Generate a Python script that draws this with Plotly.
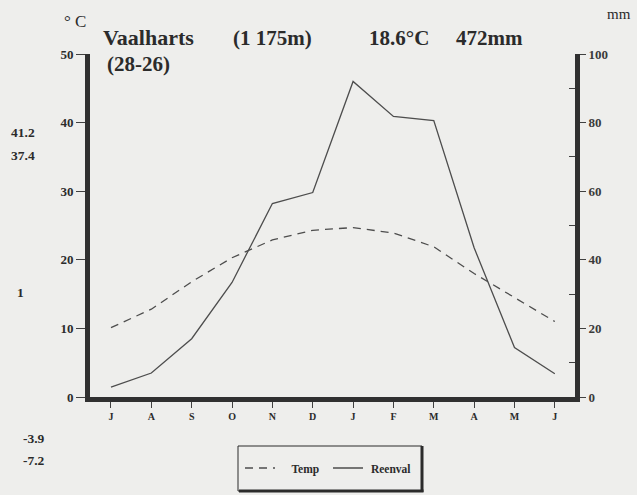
import plotly.graph_objects as go

months = ["J", "A", "S", "O", "N", "D", "J", "F", "M", "A", "M", "J"]
temp = [10.1, 12.8, 16.8, 20.3, 22.9, 24.3, 24.7, 23.9, 21.9, 18.0, 14.5, 11.0]
rain = [2.9, 7.0, 17.0, 33.4, 56.4, 59.6, 92.0, 81.8, 80.6, 43.5, 14.4, 6.8]
side_labels = ["41.2", "37.4", "1", "-3.9", "-7.2"]

SERIF = "Liberation Serif"
INK = "#2b2b2b"
LINE = "#4d4d4d"
BG = "#eeeeec"
NB = "\u00a0"

x = list(range(len(months)))

fig = go.Figure()
fig.add_trace(go.Scatter(
    x=x, y=temp, name=NB * 4 + "Temp", mode="lines",
    line=dict(color=LINE, width=1.3, dash="8px,6px"),
    yaxis="y",
))
fig.add_trace(go.Scatter(
    x=x, y=rain, name=NB + "Reenval", mode="lines",
    line=dict(color=LINE, width=1.3),
    yaxis="y2",
))

W, H = 637, 495
ml, mr, mt, mb = 90, 62, 54, 98
pw, ph = W - ml - mr, H - mt - mb


def px(xp):
    return (xp - ml) / pw


def py(yp):
    return (H - mb - yp) / ph


annotations = []


def ann(text, xp, yp, size, bold=True, anchor="left", color=INK):
    annotations.append(dict(
        text=text, x=px(xp), y=py(yp), xref="paper", yref="paper",
        xanchor=anchor, yanchor="middle", showarrow=False,
        font=dict(family=SERIF, size=size, color=color,
                  weight="bold" if bold else "normal"),
    ))


ann("Vaalharts", 101, 38, 22)
ann("(1 175m)", 231, 38, 21)
ann("18.6°C", 367, 38, 21)
ann("472mm", 454, 38, 21)
ann("(28-26)", 105, 64, 21)
ann("° C", 62, 22, 17, bold=False)
ann("mm", 605, 14, 15, bold=False)

side_pos = [(9, 132), (9, 155), (15, 292), (21, 438), (21, 460)]
for lab, (sx, sy) in zip(side_labels, side_pos):
    ann(lab, sx, sy, 13.5)

shapes = [
    dict(type="rect", xref="paper", yref="paper",
         x0=px(238), x1=px(422), y0=py(491), y1=py(446),
         line=dict(color=INK, width=1), fillcolor="rgba(0,0,0,0)"),
    dict(type="line", xref="paper", yref="paper",
         x0=px(422), x1=px(422), y0=py(492), y1=py(446),
         line=dict(color=INK, width=3)),
    dict(type="line", xref="paper", yref="paper",
         x0=px(239), x1=px(423.5), y0=py(491), y1=py(491),
         line=dict(color=INK, width=3)),
]

axis_common = dict(
    showline=True, linewidth=5, linecolor="#303030",
    showgrid=False, zeroline=False,
    ticks="outside", tickcolor="#404040", tickwidth=1,
)

fig.update_layout(
    width=W, height=H,
    margin=dict(l=ml, r=mr, t=mt, b=mb, pad=0),
    paper_bgcolor=BG, plot_bgcolor=BG,
    font=dict(family=SERIF, color=INK),
    showlegend=True,
    legend=dict(
        orientation="h", x=px(240), y=py(468),
        xanchor="left", yanchor="middle",
        bgcolor="rgba(0,0,0,0)", borderwidth=0,
        font=dict(family=SERIF, size=11.5, color=INK, weight="bold"),
        itemwidth=30, entrywidth=43,
    ),
    xaxis=dict(
        range=[-0.52, 11.5], tickvals=x, ticktext=months,
        ticklen=6,
        tickfont=dict(family=SERIF, size=10, color=INK, weight="bold"),
        **axis_common,
    ),
    yaxis=dict(
        range=[0, 50], tickvals=[0, 10, 20, 30, 40, 50],
        ticklen=9,
        tickfont=dict(family=SERIF, size=13, color=INK, weight="bold"),
        **axis_common,
    ),
    yaxis2=dict(
        range=[0, 100], tickvals=[0, 20, 40, 60, 80, 100],
        overlaying="y", side="right", ticklen=6,
        minor=dict(tickvals=[10, 30, 50, 70, 90], ticks="inside",
                   ticklen=6, tickcolor="#404040"),
        tickfont=dict(family=SERIF, size=13, color="#3a3a3a", weight="bold"),
        **axis_common,
    ),
    annotations=annotations,
    shapes=shapes,
)

fig.write_html("out.html")
